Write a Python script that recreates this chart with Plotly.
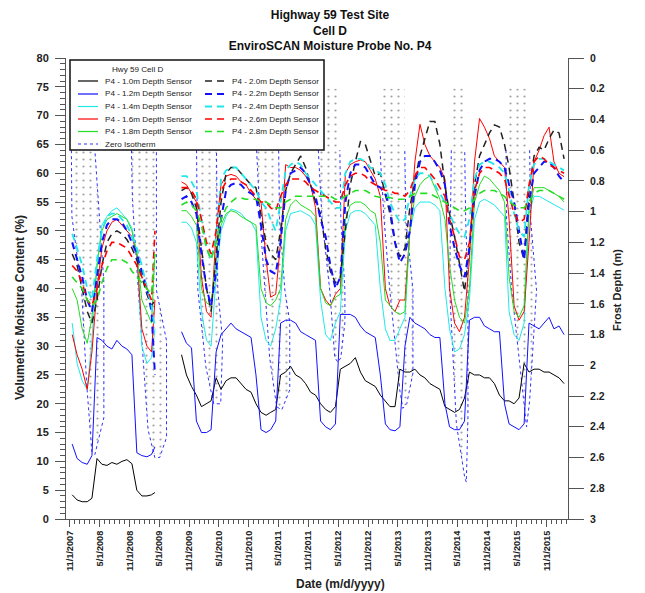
import pandas as pd
import plotly.graph_objects as go

FONT = "Arial, 'Liberation Sans', Helvetica, sans-serif"

# ---------------- sample dates (mid-month readings) ----------------
SEG1_DATES = [(d + pd.Timedelta(days=14)).strftime("%Y-%m-%d")
              for d in pd.date_range("2007-11-01", periods=17, freq="MS")] + ["2009-04-05"]
GAP_DATE = ["2009-06-01"]
SEG2_DATES = [(d + pd.Timedelta(days=14)).strftime("%Y-%m-%d")
              for d in pd.date_range("2009-09-01", periods=78, freq="MS")]
DATES = SEG1_DATES + GAP_DATE + SEG2_DATES

# ---------------- volumetric moisture content (%) ----------------
S10_SEG1 = [4.2, 3.3, 3.0, 3.0, 3.6, 10.5, 9.5, 9.3, 9.8, 9.5, 10.0, 10.3, 9.6, 5.0, 4.0, 4.0, 4.2, 4.6]
S10_SEG2 = [28.5, 25, 23, 21.5, 19.5, 20, 20.5, 24.5,
            22.5, 24, 24.5, 24.5, 23.5, 22.5, 22, 20, 18.5, 18, 18.5, 19,
            25, 25.5, 26.5, 25, 24.5, 23.5, 22, 21.5, 20, 19, 18.5, 19.5,
            26, 26.5, 27, 28, 25.5, 24, 23.5, 23, 21.5, 20.5, 19.5, 19.5, 26,
            25.5, 25.5, 26, 25, 24.5, 23.5, 23, 22.5, 19.5, 19, 18.5, 19, 21,
            25.5, 25, 25, 24.5, 24.5, 23.5, 21.5, 20.5, 20.5, 20, 21, 27,
            25.5, 26, 26, 25.5, 25.5, 25, 24.5, 23.5]

S12_SEG1 = [13.0, 10.5, 9.8, 9.5, 11.0, 31.5, 31.0, 30.0, 29.5, 31.0, 30.0, 29.5, 28.5, 11.5, 11.0, 10.8, 11.2, 12.5]
S12_SEG2 = [32.5, 30.5, 29.7, 17, 15, 15, 15.5, 29,
            32, 33, 34, 33, 32.5, 32, 31.5, 25, 15.5, 15, 15.5, 17,
            34, 34.5, 34.5, 34, 32.5, 32, 31.5, 31, 17, 16, 15.5, 16.5,
            35.5, 35.5, 35.5, 35, 33.5, 32.5, 32, 31.5, 25, 16.5, 15.5, 15.3, 16,
            30, 35, 34, 33.5, 33, 32, 31.5, 31.5, 20, 16, 15.5, 15.5, 17,
            34.5, 35, 35, 33.5, 33, 32.5, 32.5, 20, 16.5, 16, 15.5, 16.5,
            34, 33.5, 33, 34, 35, 33, 33.5, 32]

S14_SEG1 = [34, 27, 24, 22.5, 31, 44, 51, 52.5, 53.5, 54, 53, 52, 50.5, 46, 30, 27, 28, 33]
S14_SEG2 = [51.5, 51.5, 50.5, 48, 36, 31, 30, 42,
            50, 52.5, 53.8, 53.5, 53, 52, 51.5, 50, 35, 31, 30, 33,
            38, 50, 53, 53.3, 53.5, 53, 52.5, 51, 38, 32, 31, 34,
            36, 50, 53, 53.5, 53.5, 53, 52, 51, 40, 33, 31, 31, 33,
            35, 50, 54, 55, 55, 55, 54.5, 53.5, 40, 33, 29, 29.5, 32,
            38, 52, 55, 55.5, 55, 54.5, 53.5, 52.5, 36, 32, 31, 34,
            53, 56, 56, 55.5, 55, 54.5, 54, 53.6]

S16_SEG1 = [32, 28.5, 26, 22.5, 29, 40, 47, 50, 51.5, 52, 51, 50, 49, 46, 33, 30, 29, 38]
S16_SEG2 = [58.5, 58, 56.5, 55, 42, 36, 35, 50,
            58, 59.5, 59.8, 59.5, 58.5, 58, 56.5, 55.5, 55, 45, 38.5, 39,
            48, 61.5, 61, 61, 60.5, 59.5, 58, 54, 40, 38, 37, 39,
            40, 60, 61.5, 62, 62.3, 62, 60.5, 59, 56, 40, 37, 36, 38,
            38, 50, 62, 68.5, 65, 63, 62, 61, 59, 40, 34, 32.5, 35,
            45, 62, 69.5, 68, 66, 63, 62, 61, 52, 37, 34.5, 36,
            48, 62, 64, 66.5, 68, 62, 60, 59.4]

S18_SEG1 = [40, 38, 33, 30.5, 35, 44, 50, 52, 52.5, 53, 52.5, 52, 50, 46, 38, 36, 34, 46]
S18_SEG2 = [53.5, 53.5, 52.5, 51, 40, 37.5, 37, 46,
            51, 53, 53.5, 53.2, 52.5, 52, 51.5, 51, 40, 37.5, 37, 38,
            40, 52, 54.5, 55.4, 54.5, 54, 53.5, 52.5, 40, 37.5, 37, 38.5,
            39, 52, 54.5, 55, 55, 54.5, 53.5, 53, 48, 38, 37, 36, 35.5,
            36, 50, 56, 58, 59, 59.5, 57.5, 55.5, 52, 44, 38, 35, 34,
            40, 55, 58, 59.5, 59, 58, 57, 55, 42, 36, 35, 37,
            54, 57.5, 57.5, 57.5, 57, 56.5, 56, 55]

S20_SEG1 = [46, 44, 40, 36, 34, 38, 44, 48, 49.5, 50, 49.5, 48.5, 47, 45, 42, 39, 37, 38]
S20_SEG2 = [57, 57.5, 56.5, 54, 47, 40, 36, 45,
            55, 60, 61, 61, 60, 59, 58, 57.5, 53, 48, 46, 45,
            50, 57, 60, 61.5, 63, 61, 58, 55, 53, 47, 43, 41,
            42, 50, 58, 62, 65.5, 65, 62, 59.5, 60, 56.5, 53, 48, 45.5,
            47, 54, 59, 63, 66, 69, 69, 65, 58, 53, 49, 44, 39.5,
            47, 58, 63, 65, 67, 68.4, 68, 65, 61, 55, 48, 45,
            57, 63, 64.5, 64, 66, 67.5, 67, 62.5]

S22_SEG1 = [48, 45, 42, 38, 36, 42, 48, 51, 52, 52, 51.5, 50, 48, 46, 43, 40, 36, 25]
S22_SEG2 = [55.5, 56, 55, 53, 46, 40, 37, 43,
            52, 57, 58, 58.3, 58, 57, 56.5, 56, 51, 45, 43, 42.5,
            48, 57, 60, 60.5, 61, 60, 58, 56, 52, 49, 44, 40,
            42, 55, 60, 61.5, 61.5, 61, 59.5, 58, 57.5, 56.5, 54, 48, 44.5,
            46, 50, 58, 62, 63, 63, 62, 60.5, 58, 51, 47, 44, 42,
            47, 56, 60.5, 62, 62.5, 62.5, 62, 61, 58, 55, 50, 45,
            55, 60, 61, 62, 62, 61, 59.5, 58.5]

S24_SEG1 = [49.5, 47, 44, 40, 38, 45, 50, 52.5, 53, 53, 52, 51, 49, 47, 44, 40, 37, 33]
S24_SEG2 = [59.5, 59.5, 58.5, 57, 52, 47, 45, 49,
            59, 60.5, 61, 61, 60, 59, 58, 57, 55, 54, 52, 50,
            55, 60.5, 61.5, 62, 61.5, 60, 59, 58, 57, 56, 55, 54,
            54, 60, 62, 62.5, 62.5, 62, 61, 60.5, 60, 58, 55, 53, 51.5,
            52, 56, 59, 60, 60, 59.5, 58, 56.5, 55, 53, 51, 49.5, 49,
            52, 59, 61.5, 62, 62, 61.5, 61, 60, 57, 53, 50, 49,
            58, 61.5, 62.5, 62.5, 62, 61.5, 61, 60.5]

S26_SEG1 = [44, 43, 41, 38, 37, 40, 44, 46.5, 48, 48, 47.5, 47, 45.5, 44, 42, 40, 38, 50]
S26_SEG2 = [57.5, 57.5, 57, 55.5, 52, 48, 46, 50,
            57, 58.5, 59, 59, 58.5, 58, 57, 56, 55, 55, 54, 53.5,
            56, 58, 59, 59, 59, 58.5, 57.5, 57, 56.5, 56, 55.5, 55,
            55, 58, 59.5, 60, 60, 59.5, 58.5, 58, 57.5, 57, 57, 56.5, 56.5,
            56, 57, 59.5, 61, 61, 60, 59, 57.5, 56, 52, 49, 45.5, 45,
            48, 57, 60, 61, 61, 60.5, 60, 59, 56, 53, 51.5, 52,
            58, 62, 63, 62.5, 61.5, 61, 60.5, 60]

S28_SEG1 = [42, 41, 40, 38, 37, 38, 41, 43.5, 45, 45, 45, 44.5, 43, 42, 41, 40, 39, 46]
S28_SEG2 = [54.5, 55, 54.5, 53.5, 51, 47, 45, 48,
            52, 54, 55, 55.7, 55.7, 55.5, 55.5, 55.5, 55, 55, 54.5, 54,
            54, 55, 55.5, 56, 56, 56, 56, 56, 56, 56, 56, 55.5,
            55.5, 56, 56.5, 57, 57, 57, 56.5, 56, 55.8, 55.8, 55.8, 55.5, 55.5,
            55.5, 56, 56.5, 56.5, 56.5, 56.5, 56, 55.5, 55, 54.5, 54, 53.5, 53.5,
            54, 55.5, 56.5, 57, 57, 57, 56.5, 56, 55, 54.5, 54, 54,
            55, 56.5, 57, 57, 57, 56.5, 56, 55.5]

# ---------------- zero isotherm (frost depth, m) per winter ----------------
ISO_07_DATES = ["2007-11-10", "2007-11-10", "2007-11-13", "2008-01-12", "2008-02-11", "2008-03-14",
                "2008-04-02", "2008-05-27", "2008-05-27", "2008-04-02", "2008-04-02"]
ISO_07_DEPTH = [0.2, 0.6, 1.03, 1.51, 2.11, 2.56, 2.58, 2.34, 1.46, 0.6, 0.2]
ISO_08_DATES = ["2008-11-12", "2008-11-12", "2008-11-18", "2008-12-24", "2009-02-22", "2009-04-04",
                "2009-05-04", "2009-06-15", "2009-06-15", "2009-04-14", "2009-04-14", "2009-04-14"]
ISO_08_DEPTH = [0.2, 0.6, 0.92, 1.51, 2.42, 2.60, 2.60, 2.47, 1.84, 1.51, 0.6, 0.2]
ISO_09_DATES = ["2009-12-16", "2009-12-16", "2009-12-24", "2010-02-11", "2010-03-31", "2010-05-13",
                "2010-05-25", "2010-04-25", "2010-04-17", "2010-04-17"]
ISO_09_DEPTH = [0.2, 0.6, 1.51, 2.01, 2.25, 2.25, 1.84, 1.51, 0.6, 0.2]
ISO_10_DATES = ["2010-12-19", "2010-12-19", "2011-01-09", "2011-02-08", "2011-03-09", "2011-04-21",
                "2011-05-22", "2011-07-10", "2011-07-10", "2011-06-10", "2011-05-09", "2011-05-03", "2011-05-03"]
ISO_10_DEPTH = [0.2, 0.6, 1.05, 1.51, 1.95, 2.27, 2.29, 2.16, 1.72, 1.51, 1.05, 0.6, 0.2]
ISO_11_DATES = ["2012-01-01", "2012-01-01", "2012-01-24", "2012-03-11", "2012-04-11", "2012-04-30",
                "2012-05-18", "2012-06-12", "2012-06-12", "2012-05-18", "2012-05-12", "2012-05-12"]
ISO_11_DEPTH = [0.2, 0.6, 1.05, 1.51, 1.95, 1.98, 1.95, 1.72, 1.51, 1.05, 0.6, 0.2]
ISO_12_DATES = ["2013-01-13", "2013-01-13", "2013-02-07", "2013-03-14", "2013-04-02", "2013-05-14",
                "2013-06-02", "2013-06-26", "2013-08-03", "2013-08-03", "2013-06-20", "2013-06-14", "2013-06-14"]
ISO_12_DEPTH = [0.2, 0.6, 1.05, 1.51, 1.72, 2.16, 2.28, 2.25, 2.05, 1.51, 1.05, 0.6, 0.2]
ISO_13_DATES = ["2014-03-26", "2014-03-26", "2014-03-22", "2014-03-16", "2014-04-26", "2014-06-16",
                "2014-06-26", "2014-07-06", "2014-07-06", "2014-06-22", "2014-06-16", "2014-06-16"]
ISO_13_DEPTH = [0.2, 0.6, 1.05, 1.51, 2.38, 2.73, 2.76, 2.34, 1.51, 1.05, 0.6, 0.2]
ISO_14_DATES = ["2015-02-24", "2015-02-24", "2015-02-28", "2015-03-31", "2015-05-29", "2015-06-30",
                "2015-07-19", "2015-08-30", "2015-07-25", "2015-07-19", "2015-07-19"]
ISO_14_DEPTH = [0.2, 0.6, 1.05, 1.51, 2.08, 2.40, 2.23, 1.51, 1.05, 0.6, 0.2]

TICK_DATES = ["2007-11-01", "2008-05-01", "2008-11-01", "2009-05-01", "2009-11-01", "2010-05-01",
              "2010-11-01", "2011-05-01", "2011-11-01", "2012-05-01", "2012-11-01", "2013-05-01",
              "2013-11-01", "2014-05-01", "2014-11-01", "2015-05-01", "2015-11-01"]
TICK_TEXT = ["11/1/2007", "5/1/2008", "11/1/2008", "5/1/2009", "11/1/2009", "5/1/2010",
             "11/1/2010", "5/1/2011", "11/1/2011", "5/1/2012", "11/1/2012", "5/1/2013",
             "11/1/2013", "5/1/2014", "11/1/2014", "5/1/2015", "11/1/2015"]

SENSORS = [
    ("P4 - 1.0m Depth Sensor", S10_SEG1, S10_SEG2, "#000000", "solid", 1.0),
    ("P4 - 1.2m Depth Sensor", S12_SEG1, S12_SEG2, "#1010ff", "solid", 1.0),
    ("P4 - 1.4m Depth Sensor", S14_SEG1, S14_SEG2, "#20e8e8", "solid", 1.0),
    ("P4 - 1.6m Depth Sensor", S16_SEG1, S16_SEG2, "#ff0000", "solid", 1.0),
    ("P4 - 1.8m Depth Sensor", S18_SEG1, S18_SEG2, "#22dd22", "solid", 1.0),
    ("P4 - 2.0m Depth Sensor", S20_SEG1, S20_SEG2, "#222222", "7px,5px", 1.5),
    ("P4 - 2.2m Depth Sensor", S22_SEG1, S22_SEG2, "#1010ff", "7px,5px", 2.0),
    ("P4 - 2.4m Depth Sensor", S24_SEG1, S24_SEG2, "#20e8e8", "7px,5px", 1.8),
    ("P4 - 2.6m Depth Sensor", S26_SEG1, S26_SEG2, "#ff0000", "7px,5px", 1.6),
    ("P4 - 2.8m Depth Sensor", S28_SEG1, S28_SEG2, "#22dd22", "7px,5px", 1.6),
]
ISO_WINTERS = [(ISO_07_DATES, ISO_07_DEPTH), (ISO_08_DATES, ISO_08_DEPTH), (ISO_09_DATES, ISO_09_DEPTH),
               (ISO_10_DATES, ISO_10_DEPTH), (ISO_11_DATES, ISO_11_DEPTH), (ISO_12_DATES, ISO_12_DEPTH),
               (ISO_13_DATES, ISO_13_DEPTH), (ISO_14_DATES, ISO_14_DEPTH)]
ISO_COLOR = "#3030ff"

for name, a, b, *_ in SENSORS:
    assert len(a) == len(SEG1_DATES), (name, len(a))
    assert len(b) == len(SEG2_DATES), (name, len(b))
for d, z in ISO_WINTERS:
    assert len(d) == len(z)

fig = go.Figure()

# frozen zone (stippled) and zero isotherm on the frost-depth axis (drawn underneath)
for d, z in ISO_WINTERS:
    fig.add_trace(go.Scatter(
        x=d, y=z, mode="lines", fill="toself", yaxis="y",
        line=dict(width=0, color="rgba(0,0,0,0)"),
        fillcolor="rgba(0,0,0,0)",
        fillpattern=dict(shape=".", fgcolor="#444444", bgcolor="rgba(0,0,0,0)", size=7, solidity=0.08),
        showlegend=False, hoverinfo="skip"))
for d, z in ISO_WINTERS:
    fig.add_trace(go.Scatter(
        x=d[1:-1], y=z[1:-1], mode="lines", yaxis="y", name="Zero Isotherm",
        line=dict(color=ISO_COLOR, width=1, dash="dot"), showlegend=False))

# moisture sensors on the VMC axis
for name, a, b, color, dash, w in SENSORS:
    fig.add_trace(go.Scatter(
        x=DATES, y=a + [None] + b, mode="lines", name=name, yaxis="y2",
        connectgaps=False, line=dict(color=color, width=w, dash=dash), showlegend=False))

# ---------------- layout ----------------
W, H = 645, 593
OFF = 8                      # page offset of the figure inside the browser window
SL, SR, ST, SB = 66, 568, 58, 519   # plot area edges as seen on screen


def px(x):
    return (x - SL) / (SR - SL)


def py(y):
    return (SB - y) / (SB - ST)


LEG_FONT = dict(family=FONT, size=8.1, color="#222222")

shapes = [dict(type="rect", xref="paper", yref="paper", x0=px(70), x1=px(324), y0=py(150), y1=py(60),
               line=dict(color="#111111", width=1.5), fillcolor="white", layer="above")]
annotations = [dict(text="Hwy 59 Cell D", xref="paper", yref="paper", x=px(110), y=py(70),
                    xanchor="left", yanchor="middle", showarrow=False, font=LEG_FONT)]
rows = [81, 94, 106.5, 119, 131.5, 144]
legend_items = [(SENSORS[i][0], SENSORS[i][3], SENSORS[i][4], SENSORS[i][5], 0, rows[i]) for i in range(5)]
legend_items += [(SENSORS[5 + i][0], SENSORS[5 + i][3], SENSORS[5 + i][4], SENSORS[5 + i][5], 1, rows[i])
                 for i in range(5)]
legend_items.append(("Zero Isotherm", ISO_COLOR, "dot", 1.2, 0, rows[5]))
for label, color, dash, w, col, yy in legend_items:
    x0, x1, xt = (78, 98, 103) if col == 0 else (205, 226, 230)
    shapes.append(dict(type="line", xref="paper", yref="paper", x0=px(x0), x1=px(x1), y0=py(yy), y1=py(yy),
                       line=dict(color=color, width=max(w, 1.2), dash=dash), layer="above"))
    annotations.append(dict(text=label, xref="paper", yref="paper", x=px(xt), y=py(yy),
                            xanchor="left", yanchor="middle", showarrow=False, font=LEG_FONT))

annotations += [
    dict(text="Volumetric Moisture Content (%)", xref="paper", yref="paper", x=px(20), y=py(308),
         textangle=-90, showarrow=False, xanchor="center", yanchor="middle",
         font=dict(family=FONT, size=12, color="#222222", weight="bold")),
    dict(text="Frost Depth (m)", xref="paper", yref="paper", x=px(617), y=py(290),
         textangle=-90, showarrow=False, xanchor="center", yanchor="middle",
         font=dict(family=FONT, size=11, color="#222222", weight="bold")),
    dict(text="Date (m/d/yyyy)", xref="paper", yref="paper", x=px(340), y=py(584),
         showarrow=False, xanchor="center", yanchor="middle",
         font=dict(family=FONT, size=12, color="#222222", weight="bold")),
]

fig.update_layout(
    width=W, height=H,
    margin=dict(l=SL - OFF, r=W - (SR - OFF), t=ST - OFF, b=H - (SB - OFF), pad=0),
    paper_bgcolor="white", plot_bgcolor="white",
    showlegend=False,
    title=dict(text="Highway 59 Test Site<br>Cell D<br>EnviroSCAN Moisture Probe No. P4",
               x=(330 - OFF) / W, xanchor="center", y=1.0 - 11 / H, yanchor="top",
               pad=dict(t=0, b=0),
               font=dict(family=FONT, size=12, color="#111111", weight="bold")),
    xaxis=dict(type="date", range=["2007-10-08", "2016-03-10"],
               tickmode="array", tickvals=TICK_DATES, ticktext=TICK_TEXT, tickangle=-90,
               ticks="outside", ticklen=7, tickcolor="#555555",
               minor=dict(dtick="M1", tick0="2007-11-01", ticks="outside", ticklen=4, tickcolor="#555555"),
               showline=True, linecolor="#555555", linewidth=1, showgrid=False, zeroline=False,
               tickfont=dict(family=FONT, size=9.2, color="#222222", weight="bold")),
    yaxis=dict(range=[3, 0], side="right", tickmode="linear", tick0=0, dtick=0.2,
               ticks="outside", ticklen=15, tickcolor="#555555",
               showline=True, linecolor="#555555", linewidth=1, showgrid=False, zeroline=False,
               tickfont=dict(family=FONT, size=10.5, color="#222222", weight="bold"), ticklabelstandoff=4),
    yaxis2=dict(range=[0, 80], overlaying="y", side="left", tickmode="linear", tick0=0, dtick=5,
                ticks="outside", ticklen=10, tickcolor="#555555",
                minor=dict(dtick=1, ticks="outside", ticklen=5, tickcolor="#555555"),
                showline=True, linecolor="#555555", linewidth=1, showgrid=False, zeroline=False,
                tickfont=dict(family=FONT, size=11, color="#222222", weight="bold"), ticklabelstandoff=4),
    shapes=shapes,
    annotations=annotations,
)

fig.write_html("out.html")
